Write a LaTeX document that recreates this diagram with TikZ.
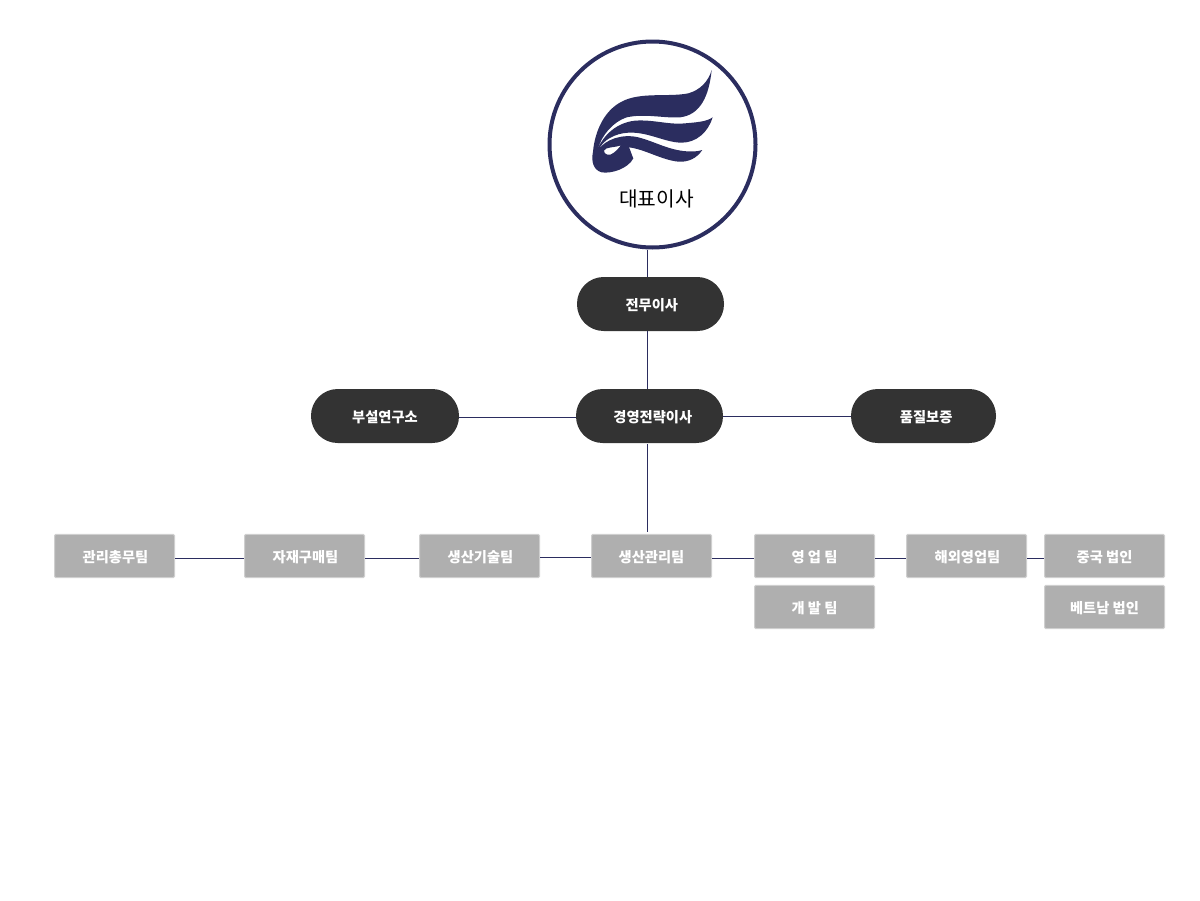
\documentclass[tikz,border=0pt]{standalone}
\usepackage{fontspec}
\setmainfont{Noto Sans CJK KR}
\definecolor{navy}{HTML}{2B2D5F}
\definecolor{pillgray}{HTML}{333333}
\definecolor{boxgray}{HTML}{AFAFAF}
\definecolor{boxedge}{HTML}{CFCFCF}
\tikzset{
  pill/.style={fill=pillgray,rounded corners=20pt,minimum height=40.5pt,inner sep=0pt,text=white,text height=10.5pt,text depth=1pt,font=\bfseries\fontsize{10.7}{12}\selectfont},
  teambox/.style={fill=boxgray,draw=boxedge,line width=0.75pt,rounded corners=1pt,minimum width=90pt,minimum height=32.5pt,inner sep=0pt,text=white,text height=10.5pt,text depth=1pt,font=\bfseries\fontsize{10.7}{12}\selectfont},
  link/.style={draw=navy,line width=0.75pt}
}
\begin{document}
\begin{tikzpicture}[x=0.75pt,y=0.75pt,yscale=-1,xscale=1]
\useasboundingbox (0,0) rectangle (1200,900);

%Shape: Circle
\node (ceo) at (652.5,144.5) [circle,draw=navy,line width=3pt,minimum size=154.5pt,inner sep=0pt] {};

%Shape: Logo
\begin{scope}[shift={(585,60)},x=0.25pt,y=0.25pt]
\fill [navy,even odd rule] (380,30) .. controls (372,110) and (345,165) .. (285,172)
  .. controls (235,175) and (180,160) .. (125,172)
  .. controls (85,185) and (50,225) .. (38,268)
  .. controls (55,225) and (95,188) .. (150,182)
  .. controls (205,178) and (250,195) .. (300,190)
  .. controls (335,187) and (365,185) .. (383,172)
  .. controls (370,215) and (335,248) .. (290,248)
  .. controls (240,248) and (190,215) .. (130,218)
  .. controls (90,220) and (55,240) .. (41,268)
  .. controls (60,240) and (110,220) .. (160,232)
  .. controls (210,245) and (250,270) .. (305,274)
  .. controls (325,275) and (340,274) .. (352,270)
  .. controls (335,295) and (310,307) .. (280,305)
  .. controls (230,300) and (180,268) .. (132,262)
  .. controls (137,272) and (140,285) .. (145,295)
  .. controls (130,325) and (80,342) .. (50,337)
  .. controls (25,330) and (18,305) .. (24,275)
  .. controls (30,210) and (60,150) .. (110,125)
  .. controls (165,95) and (250,112) .. (310,100)
  .. controls (345,90) and (370,65) .. (380,30) -- cycle
  (57,272) .. controls (62,260) and (85,264) .. (108,256)
  .. controls (95,272) and (80,288) .. (67,284)
  .. controls (60,282) and (57,278) .. (57,272) -- cycle;
\end{scope}

% Text Node
\node (ceotext) at (656.5,198.5) {\fontsize{15.2}{18}\selectfont 대표이사};

% Directors
\node (exec) at (650.5,304) [pill,minimum width=110.25pt] {\hspace*{2pt}전무이사};
\node (strategy) at (649.5,416) [pill,minimum width=110.25pt] {\hspace*{5pt}경영전략이사};
\node (lab) at (385,416) [pill,minimum width=111pt] {부설연구소};
\node (quality) at (923.5,416) [pill,minimum width=108.75pt] {\hspace*{4pt}품질보증};

% Teams
\node (admin) at (114.5,556) [teambox] {\hspace*{1.5pt}관리총무팀};
\node (purchase) at (304.5,556) [teambox] {\hspace*{1.5pt}자재구매팀};
\node (tech) at (479.5,556) [teambox] {\hspace*{1.5pt}생산기술팀};
\node (prod) at (651.5,556) [teambox] {생산관리팀};
\node (sales) at (814.5,556) [teambox] {영 업 팀};
\node (dev) at (814.5,607) [teambox] {개 발 팀};
\node (overseas) at (966.5,556) [teambox] {\hspace*{1.5pt}해외영업팀};
\node (china) at (1104.5,556) [teambox] {중국 법인};
\node (vietnam) at (1104.5,607) [teambox] {베트남 법인};

% Lines
\draw [link] ([xshift=-3.75pt]ceo.south) -- ([xshift=-2.25pt]exec.north);
\draw [link] ([xshift=-2.25pt]exec.south) -- ([xshift=-1.5pt]strategy.north);
\draw [link] ([xshift=-1.5pt,yshift=0.75pt]strategy.south) -- ([xshift=-3pt,yshift=-1.5pt]prod.north);
\draw [link] ([yshift=0.75pt]lab.east) -- ([yshift=0.75pt]strategy.west);
\draw [link] (strategy.east) -- (quality.west);
\draw [link] ([yshift=1.5pt]admin.east) -- ([yshift=1.5pt]purchase.west);
\draw [link] ([yshift=1.5pt]purchase.east) -- ([yshift=1.5pt]tech.west);
\draw [link] ([yshift=1pt]tech.east) -- ([yshift=1pt]prod.west);
\draw [link] ([yshift=1.5pt]prod.east) -- ([yshift=1.5pt]sales.west);
\draw [link] ([yshift=1.5pt]sales.east) -- ([yshift=1.5pt]overseas.west);
\draw [link] ([yshift=1.5pt]overseas.east) -- ([yshift=1.5pt]china.west);

\end{tikzpicture}
\end{document}
